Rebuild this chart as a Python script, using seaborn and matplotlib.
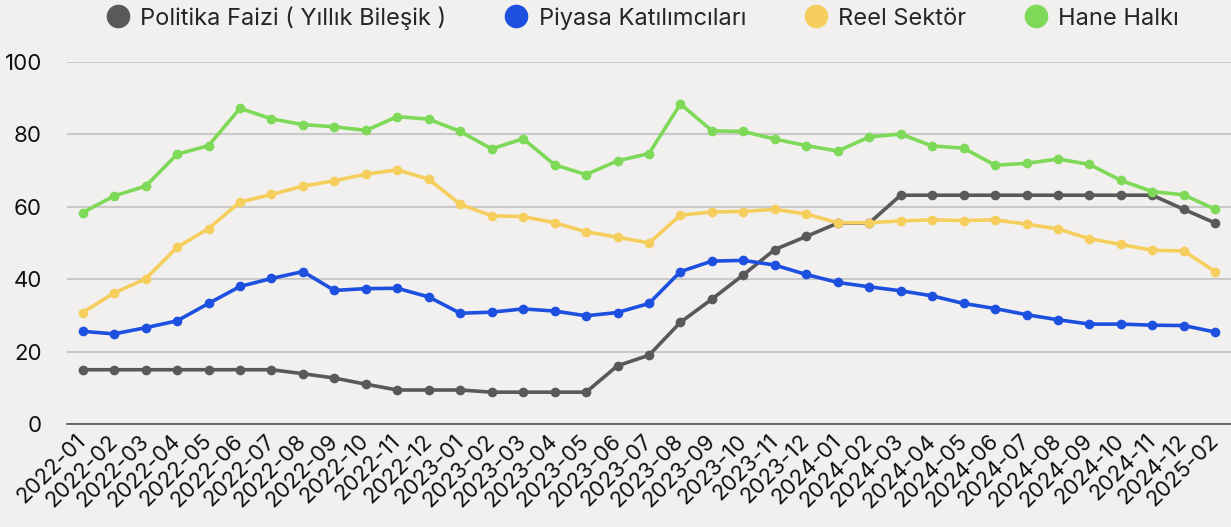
import seaborn as sns
import matplotlib.pyplot as plt
from matplotlib.lines import Line2D
import pandas as pd

aylar = ['2022-01', '2022-02', '2022-03', '2022-04', '2022-05', '2022-06', '2022-07', '2022-08',
         '2022-09', '2022-10', '2022-11', '2022-12', '2023-01', '2023-02', '2023-03', '2023-04',
         '2023-05', '2023-06', '2023-07', '2023-08', '2023-09', '2023-10', '2023-11', '2023-12',
         '2024-01', '2024-02', '2024-03', '2024-04', '2024-05', '2024-06', '2024-07', '2024-08',
         '2024-09', '2024-10', '2024-11', '2024-12', '2025-02']

politika = [15.0, 15.0, 15.0, 15.0, 15.0, 15.0, 15.0, 13.9, 12.7, 11.0, 9.4, 9.4, 9.4, 8.8,
            8.8, 8.8, 8.8, 16.1, 19.0, 28.1, 34.5, 41.2, 48.2, 51.8, 55.5, 55.5, 63.2, 63.2,
            63.2, 63.2, 63.2, 63.2, 63.2, 63.2, 63.2, 59.3, 55.5]
piyasa = [25.6, 24.9, 26.6, 28.5, 33.3, 38.0, 40.2, 42.1, 36.9, 37.4, 37.5, 35.1, 30.6, 30.9,
          31.8, 31.2, 29.9, 30.8, 33.3, 42.1, 45.0, 45.2, 43.9, 41.3, 39.1, 37.9, 36.8, 35.4,
          33.3, 31.9, 30.2, 28.8, 27.6, 27.6, 27.3, 27.2, 25.4]
reel = [30.8, 36.2, 40.1, 48.8, 54.0, 61.3, 63.4, 65.7, 67.2, 69.0, 70.2, 67.6, 60.7, 57.5,
        57.3, 55.6, 53.1, 51.6, 50.0, 57.7, 58.6, 58.7, 59.3, 58.0, 55.6, 55.6, 56.1, 56.4,
        56.2, 56.4, 55.2, 53.9, 51.2, 49.6, 48.0, 47.8, 42.1]
hane = [58.4, 63.0, 65.7, 74.5, 76.9, 87.2, 84.3, 82.7, 82.1, 81.1, 84.9, 84.2, 80.8, 76.0,
        78.8, 71.6, 68.9, 72.7, 74.7, 88.4, 81.0, 80.8, 78.7, 76.9, 75.4, 79.3, 80.1, 76.8,
        76.2, 71.5, 72.0, 73.2, 71.7, 67.3, 64.2, 63.3, 59.3]

seriler = ['Politika Faizi ( Yıllık Bileşik )', 'Piyasa Katılımcıları', 'Reel Sektör', 'Hane Halkı']
renkler = ['#595959', '#1E50E0', '#F6CE5E', '#7DD957']

arka = '#F1F0EE'
sns.set_theme(style='white')
plt.rcParams['font.family'] = ['Inter', 'DejaVu Sans']

df = pd.DataFrame({'ay': list(range(len(aylar))) * 4,
                   'deger': politika + piyasa + reel + hane,
                   'seri': [s for s in seriler for _ in aylar]})

fig = plt.figure(figsize=(12.31, 5.27), dpi=100, facecolor=arka)
ax = fig.add_axes([0.0544, 0.1954, 0.9456, 0.6870])
ax.set_facecolor(arka)

sns.lineplot(data=df, x='ay', y='deger', hue='seri', hue_order=seriler, palette=renkler,
             marker='o', markersize=7, markeredgewidth=0, linewidth=2.6, legend=False, ax=ax)

ax.set_xlim(-0.5, len(aylar) - 0.5)
ax.set_ylim(0, 100)
ax.set_yticks([0, 20, 40, 60, 80, 100])
ax.set_xticks(range(len(aylar)))
ax.set_xticklabels(aylar, rotation=45, ha='right', va='center', rotation_mode='anchor')
ax.tick_params(axis='x', length=0, pad=10, labelsize=16, colors='#111111')
ax.tick_params(axis='y', length=0, pad=18, labelsize=16, colors='#111111')
ax.set_xlabel('')
ax.set_ylabel('')
ax.yaxis.grid(True, color='#C9C9C9', linewidth=1.5)
ax.set_axisbelow(True)
for s in ['top', 'right', 'left']:
    ax.spines[s].set_visible(False)
ax.spines['bottom'].set_color('#555555')
ax.spines['bottom'].set_linewidth(1.2)

tutamaklar = [Line2D([], [], linestyle='none', marker='o', markersize=17, markeredgewidth=0,
                     color=r) for r in renkler]
fig.legend(tutamaklar, seriler, loc='center', bbox_to_anchor=(0.522, 0.966), ncol=4,
           frameon=False, fontsize=17, handlelength=1.0, handletextpad=0.45,
           columnspacing=2.45)

fig.savefig('out.png', dpi=100, facecolor=arka)
